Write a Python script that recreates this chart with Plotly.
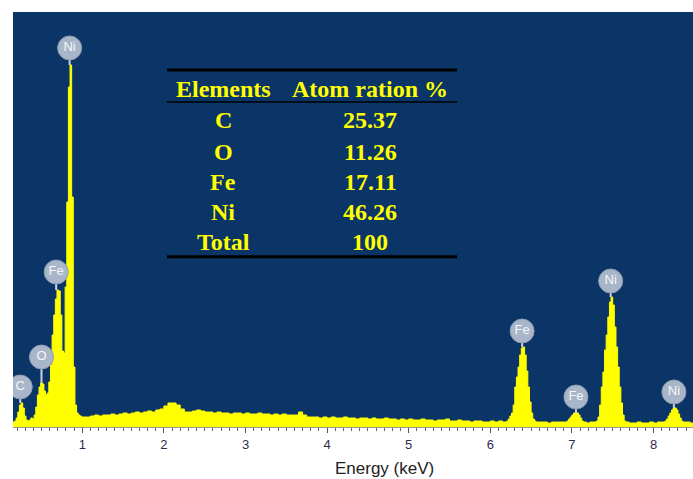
import plotly.graph_objects as go

# ---- spectrum data (energy in keV, counts in arbitrary units) ----
energy_kev = [
    0.15, 0.17, 0.19, 0.21, 0.23, 0.25, 0.27, 0.29, 0.31, 0.33, 0.35, 0.37, 0.39, 0.41, 0.43,
    0.45, 0.47, 0.49, 0.51, 0.53, 0.55, 0.57, 0.59, 0.61, 0.63, 0.65, 0.67, 0.69, 0.71, 0.73,
    0.75, 0.77, 0.79, 0.81, 0.83, 0.85, 0.87, 0.89, 0.91, 0.93, 0.95, 0.97, 0.99,
    1.00, 1.05, 1.10, 1.15, 1.20, 1.25, 1.30, 1.35, 1.40, 1.45, 1.50, 1.55, 1.60, 1.65, 1.70,
    1.75, 1.80, 1.85, 1.90, 1.95, 2.00, 2.05, 2.10, 2.15, 2.20, 2.25, 2.30, 2.35, 2.40, 2.45,
    2.50, 2.55, 2.60, 2.65, 2.70, 2.75, 2.80, 2.85, 2.90, 2.95, 3.00, 3.05, 3.10, 3.15, 3.20,
    3.25, 3.30, 3.35, 3.40, 3.45, 3.50, 3.55, 3.60, 3.65, 3.70, 3.75, 3.80, 3.85, 3.90, 3.95,
    4.00, 4.05, 4.10, 4.15, 4.20, 4.25, 4.30, 4.35, 4.40, 4.45, 4.50, 4.55, 4.60, 4.65, 4.70,
    4.75, 4.80, 4.85, 4.90, 4.95, 5.00, 5.05, 5.10, 5.15, 5.20, 5.25, 5.30, 5.35, 5.40, 5.45,
    5.50, 5.55, 5.60, 5.65, 5.70, 5.75, 5.80, 5.85, 5.90, 5.95, 6.00, 6.05, 6.10, 6.15,
    6.20, 6.22, 6.24, 6.26, 6.28, 6.30, 6.32, 6.34, 6.36, 6.38, 6.40, 6.42, 6.44, 6.46, 6.48,
    6.50, 6.52, 6.54, 6.56, 6.60, 6.65, 6.70, 6.75, 6.80, 6.85, 6.90, 6.94, 6.96, 6.98, 7.00,
    7.02, 7.04, 7.06, 7.08, 7.10, 7.12, 7.14, 7.18, 7.22, 7.26, 7.30, 7.32, 7.34, 7.36, 7.38,
    7.40, 7.42, 7.44, 7.46, 7.48, 7.50, 7.52, 7.54, 7.56, 7.58, 7.60, 7.62, 7.64, 7.66, 7.70,
    7.75, 7.80, 7.85, 7.90, 7.95, 8.00, 8.05, 8.10, 8.14, 8.16, 8.18, 8.20, 8.22, 8.24, 8.26,
    8.28, 8.30, 8.32, 8.34, 8.36, 8.40, 8.45, 8.50,
]
counts = [
    5, 6, 9, 15, 22, 24, 19, 11, 7, 6, 7, 9, 8, 12, 20,
    32, 40, 44, 43, 36, 32, 34, 45, 62, 92, 112, 128, 137, 136, 112,
    76, 74, 140, 225, 340, 362, 230, 60, 22, 14, 12, 11, 10,
    10, 10, 11, 12, 11, 12, 12, 13, 12, 13, 14, 13, 14, 15, 14,
    15, 16, 15, 17, 18, 21, 24, 24, 22, 18, 15, 15, 16, 17, 16,
    15, 15, 14, 15, 14, 14, 13, 14, 14, 13, 14, 13, 13, 14, 13,
    13, 12, 13, 12, 13, 12, 12, 12, 15, 12, 10, 10, 10, 9, 10,
    9, 10, 9, 9, 10, 9, 9, 8, 9, 9, 8, 9, 8, 8, 9,
    8, 8, 7, 8, 7, 8, 7, 7, 8, 7, 7, 6, 7, 7, 8,
    6, 6, 7, 6, 6, 5, 6, 6, 5, 5, 6, 5, 6, 5,
    6, 8, 11, 14, 22, 40, 50, 60, 72, 79, 80, 72, 56, 40, 25,
    14, 8, 6, 5, 5, 5, 4, 5, 5, 5, 5, 6, 8, 10, 12,
    14, 14, 14, 12, 9, 6, 5, 4, 5, 5, 6, 10, 22, 40, 55,
    77, 92, 110, 125, 130, 122, 100, 80, 60, 40, 24, 12, 6, 5, 4,
    4, 5, 4, 4, 5, 4, 5, 5, 6, 8, 11, 14, 17, 19, 19,
    17, 13, 9, 6, 5, 5, 4, 5,
]

# ---- peak markers ----
peak_labels = ["C", "O", "Fe", "Ni", "Fe", "Fe", "Ni", "Ni"]
peak_energy = [0.24, 0.50, 0.68, 0.845, 6.39, 7.05, 7.475, 8.25]
peak_height = [24, 44, 137, 362, 80, 14, 130, 19]
label_lift = [16, 26, 18, 17, 16, 16, 16, 16]

# ---- composition table ----
table_header = ["Elements", "Atom ration %"]
table_elements = ["C", "O", "Fe", "Ni", "Total"]
table_values = ["25.37", "11.26", "17.11", "46.26", "100"]

tick_values = [1, 2, 3, 4, 5, 6, 7, 8]

BG = "#0b3467"
YEL = "#ffff00"

fig = go.Figure()

fig.add_trace(go.Scatter(
    x=energy_kev, y=counts, mode="lines", line=dict(color=YEL, width=1, shape="hv"),
    fill="tozeroy", fillcolor=YEL, hoverinfo="skip", showlegend=False,
))

# stems
R = 11
sx, sy = [], []
for e, h, lift in zip(peak_energy, peak_height, label_lift):
    sx += [e, e, None]
    sy += [h, h + lift - R + 1, None]
fig.add_trace(go.Scatter(
    x=sx, y=sy, mode="lines", line=dict(color="#c9d2de", width=2),
    hoverinfo="skip", showlegend=False,
))
# circles with labels
fig.add_trace(go.Scatter(
    x=peak_energy, y=[h + l for h, l in zip(peak_height, label_lift)],
    mode="markers+text", text=peak_labels, textposition="middle center",
    marker=dict(size=24, color="#a9b5c8", line=dict(color="#8e9cb3", width=1)),
    textfont=dict(family="Arial, Liberation Sans, sans-serif", size=13, color="#f4f7fb"),
    hoverinfo="skip", showlegend=False,
))

# table geometry in paper coordinates
x_left, x_right = 0.2265, 0.653
col_elem, col_val = 0.309, 0.525
y_top, y_head_line, y_bottom = 0.860, 0.783, 0.410
y_head = 0.8145
row_y = [0.740, 0.663, 0.590, 0.518, 0.446]

shapes = [
    dict(type="line", xref="paper", yref="paper", x0=x_left, x1=x_right, y0=y_top, y1=y_top,
         line=dict(color="black", width=3)),
    dict(type="line", xref="paper", yref="paper", x0=x_left, x1=x_right, y0=y_head_line, y1=y_head_line,
         line=dict(color="black", width=1.5)),
    dict(type="line", xref="paper", yref="paper", x0=x_left, x1=x_right, y0=y_bottom, y1=y_bottom,
         line=dict(color="black", width=3)),
]

tfont = dict(family="Liberation Serif, Times New Roman, serif", size=24, color=YEL)
annotations = [
    dict(xref="paper", yref="paper", x=col_elem, y=y_head, text="<b>%s</b>" % table_header[0],
         showarrow=False, font=tfont, xanchor="center", yanchor="middle"),
    dict(xref="paper", yref="paper", x=col_val, y=y_head, text="<b>%s</b>" % table_header[1],
         showarrow=False, font=tfont, xanchor="center", yanchor="middle"),
]
for el, val, yy in zip(table_elements, table_values, row_y):
    annotations.append(dict(xref="paper", yref="paper", x=col_elem, y=yy, text="<b>%s</b>" % el,
                            showarrow=False, font=tfont, xanchor="center", yanchor="middle"))
    annotations.append(dict(xref="paper", yref="paper", x=col_val, y=yy, text="<b>%s</b>" % val,
                            showarrow=False, font=tfont, xanchor="center", yanchor="middle"))

annotations.append(dict(xref="paper", yref="paper", x=0.547, y=-0.099, text="Energy (keV)",
                        showarrow=False, xanchor="center", yanchor="middle",
                        font=dict(family="Arial, Liberation Sans, sans-serif", size=17, color="#222222")))

fig.update_layout(
    width=693, height=479,
    margin=dict(l=13, r=0, t=12, b=52),
    paper_bgcolor="white", plot_bgcolor=BG,
    shapes=shapes, annotations=annotations,
    xaxis=dict(
        range=[0.151, 8.484], tickmode="array", tickvals=tick_values,
        ticks="outside", ticklen=5, tickwidth=1, tickcolor="#555555",
        minor=dict(tickmode="linear", tick0=0, dtick=0.1, ticks="outside", ticklen=3,
                   tickcolor="#666666", showgrid=False),
        showgrid=False, zeroline=False, showline=True, linecolor="#9a9a9a", linewidth=1,
        tickfont=dict(family="Arial, Liberation Sans, sans-serif", size=13, color="#2d2d50"),
        fixedrange=True,
    ),
    yaxis=dict(range=[0, 415], visible=False, fixedrange=True),
)

# remove the default page margin so the figure sits at the window's top-left corner
fig.write_html("out.html",
               config={"displayModeBar": False},
               post_script="document.body.style.margin='0';document.body.style.overflow='hidden';")
